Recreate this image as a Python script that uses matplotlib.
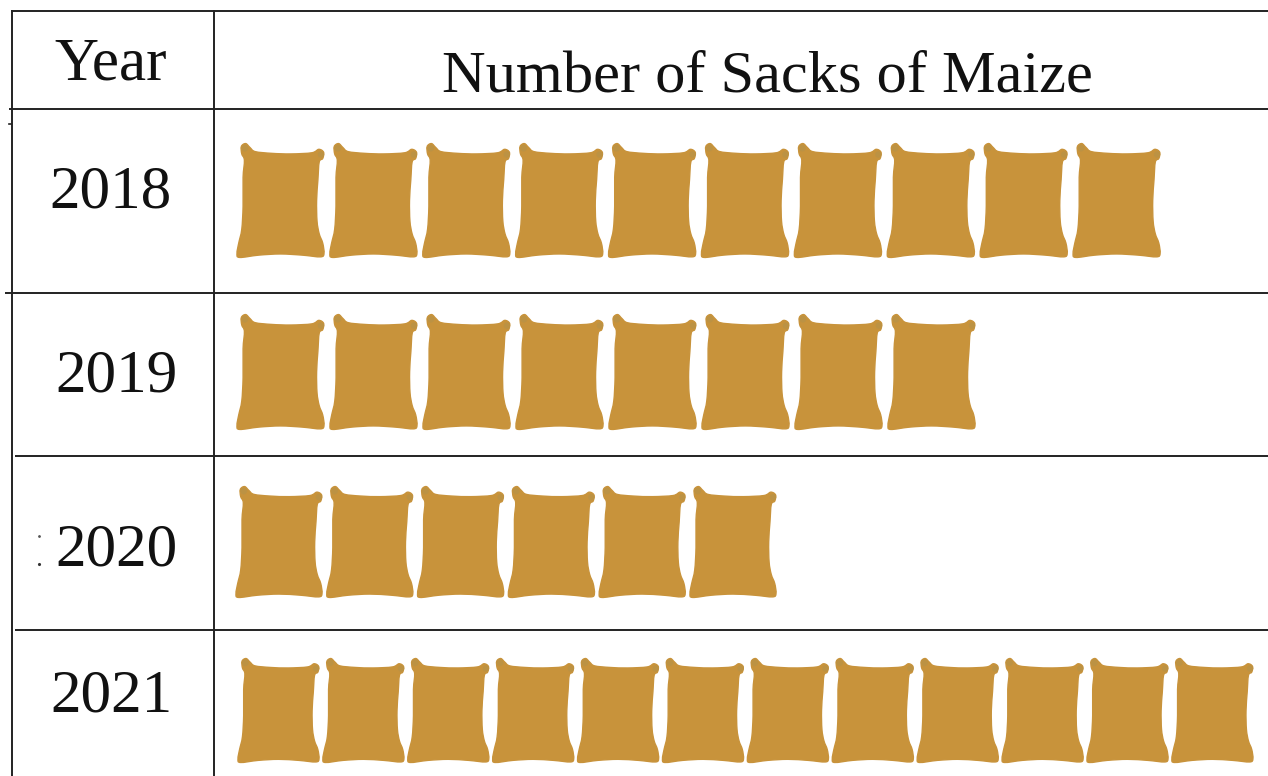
import matplotlib
matplotlib.use("Agg")
import matplotlib.pyplot as plt
from matplotlib.path import Path
from matplotlib.patches import PathPatch, Circle
from matplotlib.transforms import Affine2D
import numpy as np

years = ["2018", "2019", "2020", "2021"]
sacks = [10, 8, 6, 12]
header_year = "Year"
header_sacks = "Number of Sacks of Maize"

W, H = 1268, 776
plt.rcParams["font.family"] = ["Liberation Serif", "DejaVu Serif"]
fig = plt.figure(figsize=(W / 100, H / 100), dpi=100)
ax = fig.add_axes([0, 0, 1, 1])
ax.set_xlim(0, W)
ax.set_ylim(H, 0)
ax.axis("off")

line_c = "#222222"
# table rules
row_lines = [10.5, 108.5, 293, 455.5, 630]
row_starts = [11, 9, 5, 15, 15]
for y, x0 in zip(row_lines, row_starts):
    ax.plot([x0, W], [y, y], color=line_c, lw=1.4, solid_capstyle="butt")
ax.plot([11.5, 11.5], [10, H], color=line_c, lw=1.4, solid_capstyle="butt")
ax.plot([214, 214], [10, H], color=line_c, lw=1.4, solid_capstyle="butt")
# small specks visible in the scan
ax.plot([9, 11], [124, 124], color=line_c, lw=1.2)
ax.plot([38.5], [536], ".", color="#555555", ms=2)
ax.plot([38.5], [564], ".", color="#333333", ms=2.5)

text_c = "#111111"
ax.text(111, 79, header_year, fontsize=44, ha="center", va="baseline", color=text_c)
ax.text(767, 91, header_sacks, fontsize=43.5, ha="center", va="baseline", color=text_c)

label_pos = [(110, 208), (116, 391), (116, 566), (111, 711)]
for yr, (x, y) in zip(years, label_pos):
    ax.text(x, y, yr, fontsize=44, ha="center", va="baseline", color=text_c)

# sack outline in a unit box: x 0..1, y 0..1 (y grows downward)
outline = [
    (0.05, 0.03), (0.10, 0.005), (0.15, 0.04), (0.21, 0.075), (0.40, 0.09), (0.62, 0.095),
    (0.86, 0.085), (0.94, 0.055), (0.995, 0.08), (0.985, 0.135), (0.945, 0.165),
    (0.93, 0.32), (0.915, 0.50), (0.92, 0.68), (0.945, 0.79), (0.985, 0.87), (1.0, 0.96),
    (0.96, 0.99), (0.75, 0.975), (0.50, 0.965), (0.25, 0.975), (0.03, 0.995),
    (0.0, 0.96), (0.02, 0.87), (0.055, 0.75), (0.07, 0.55), (0.07, 0.30), (0.085, 0.15), (0.055, 0.095),
]
# Smooth closed polyline through the outline with Catmull-Rom segments
pts = np.array(outline)
n_pts = len(pts)
verts = [tuple(pts[0])]
codes = [Path.MOVETO]
for i in range(n_pts):
    p0, p1, p2, p3 = pts[i - 1], pts[i], pts[(i + 1) % n_pts], pts[(i + 2) % n_pts]
    verts += [tuple(p1 + (p2 - p0) / 6), tuple(p2 - (p3 - p1) / 6), tuple(p2)]
    codes += [Path.CURVE4] * 3
sack_path = Path(verts, codes)
sack_color = "#c8933b"
ear_color = "#bc9243"

starts = [237, 237, 236, 238]
steps = [92.9, 93.0, 90.8, 84.9]
tops = [143, 314, 486, 658]
heights = [115, 116, 112, 105]
widths = [87, 87, 86, 81]
for n, x0, step, top, h, w in zip(sacks, starts, steps, tops, heights, widths):
    for i in range(n):
        left = x0 + i * step
        tr = Affine2D().scale(w, h).translate(left, top) + ax.transData
        ax.add_patch(PathPatch(sack_path, facecolor=sack_color, edgecolor=sack_color,
                               lw=1.0, joinstyle="round", transform=tr))
        ax.add_patch(Circle((left + 0.09 * w, top + 0.045 * h), 3.4, facecolor=ear_color, edgecolor="none"))
        ax.add_patch(Circle((left + 0.965 * w, top + 0.10 * h), 3.2, facecolor=ear_color, edgecolor="none"))

fig.savefig("out.png", dpi=100)
